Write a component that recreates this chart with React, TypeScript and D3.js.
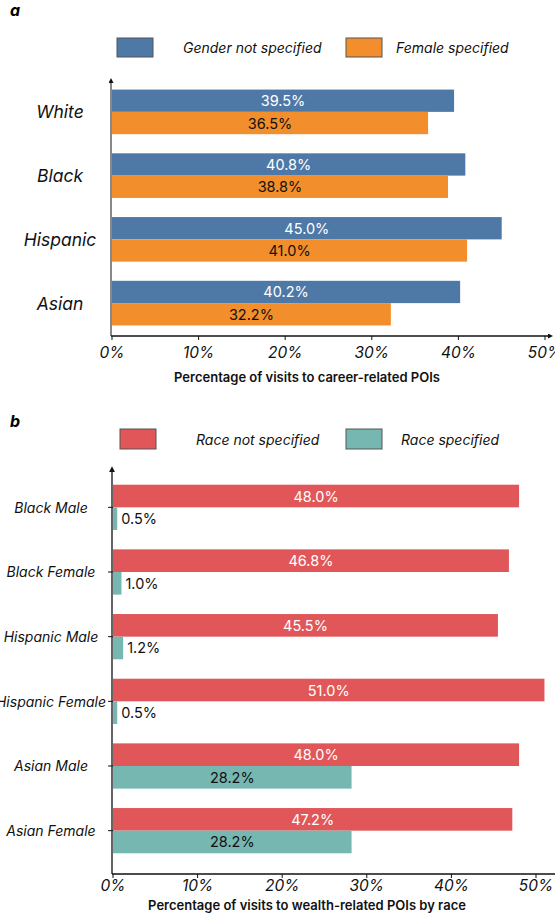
import React from 'react'
import * as d3 from 'd3'

// panel a: career-related POIs
const genderCategories = ['White', 'Black', 'Hispanic', 'Asian']
const genderNotSpecified = [39.5, 40.8, 45.0, 40.2]
const femaleSpecified = [36.5, 38.8, 41.0, 32.2]
const genderSeries = ['Gender not specified', 'Female specified']

// panel b: wealth-related POIs
const raceCategories = ['Black Male', 'Black Female', 'Hispanic Male', 'Hispanic Female', 'Asian Male', 'Asian Female']
const raceNotSpecified = [48.0, 46.8, 45.5, 51.0, 48.0, 47.2]
const raceSpecified = [0.5, 1.0, 1.2, 0.5, 28.2, 28.2]
const raceSeries = ['Race not specified', 'Race specified']

const xTicks = [0, 10, 20, 30, 40, 50]

const font = 'Inter, "Noto Sans", sans-serif'

type PanelProps = {
  tag: string
  tagY: number
  categories: string[]
  series: string[]
  values: number[][]
  colors: string[]
  labelColors: string[]
  legend: { y: number; rects: number[]; texts: number[]; w: number; h: number }
  x0: number
  x50: number
  yTop: number
  yAxis: number
  bandRange: [number, number]
  catX: number
  catSize: number
  valSize: number
  yTicks: boolean
  yAxisColor: string
  yAxisWidth: number
  xArrow: boolean
  tickDy: number
  titleDy: number
  title: string
  markerId: string
}

function Panel(p: PanelProps) {
  const x = d3.scaleLinear().domain([0, 50]).range([p.x0, p.x50])
  const y = d3.scaleBand<string>()
    .domain(p.categories)
    .range(p.bandRange)
    .paddingInner(0.3)
    .paddingOuter(0.15)
  const inner = d3.scaleBand<string>()
    .domain(p.series)
    .range([0, y.bandwidth()])
    .padding(0)

  return (
    <g>
      <text x={10} y={p.tagY} fontSize={16} fontWeight={700} fontStyle="italic">{p.tag}</text>

      {/* legend */}
      {p.series.map((s, i) => (
        <g key={s}>
          <rect x={p.legend.rects[i]} y={p.legend.y} width={p.legend.w} height={p.legend.h}
            fill={p.colors[i]} stroke="#555" strokeWidth={1} />
          <text x={p.legend.texts[i]} y={p.legend.y + p.legend.h / 2} dominantBaseline="central"
            fontSize={14} fontStyle="italic" fill="#111">{s}</text>
        </g>
      ))}

      {/* bars */}
      {p.categories.map((c, ci) => (
        <g key={c} transform={`translate(0,${y(c)})`}>
          {p.series.map((s, si) => {
            const v = p.values[si][ci]
            const by = inner(s) as number
            const w = x(v) - x(0)
            const small = v < 5
            return (
              <g key={s}>
                <rect x={x(0)} y={by} width={w} height={inner.bandwidth()} fill={p.colors[si]} />
                <text
                  x={small ? x(v) + 4 : x(0) + w / 2}
                  y={by + inner.bandwidth() / 2}
                  textAnchor={small ? 'start' : 'middle'}
                  dominantBaseline="central"
                  fontSize={p.valSize}
                  fill={small ? '#111' : p.labelColors[si]}
                >{v.toFixed(1)}%</text>
              </g>
            )
          })}
          <text x={p.catX} y={y.bandwidth() / 2} textAnchor="middle" dominantBaseline="central"
            fontSize={p.catSize} fontStyle="italic" fill="#111">{c}</text>
          {p.yTicks && (
            <line x1={x(0) - 5} x2={x(0)} y1={y.bandwidth() / 2} y2={y.bandwidth() / 2} stroke="#111" />
          )}
        </g>
      ))}

      {/* axes */}
      <line x1={x(0) - 1} x2={x(0) - 1} y1={p.yAxis} y2={p.yTop + 4} stroke={p.yAxisColor}
        strokeWidth={p.yAxisWidth} markerEnd={`url(#${p.markerId})`} />
      <line x1={x(0) - 1} x2={p.xArrow ? 549 : 560} y1={p.yAxis} y2={p.yAxis} stroke="#111"
        strokeWidth={1.3} markerEnd={p.xArrow ? `url(#${p.markerId})` : undefined} />
      {xTicks.map(t => (
        <g key={t} transform={`translate(${x(t)},${p.yAxis})`}>
          <line y1={0} y2={4} stroke="#111" />
          <text y={p.tickDy} textAnchor="middle" fontSize={15.5} fontStyle="italic" fill="#111">{t}%</text>
        </g>
      ))}
      <text x={307} y={p.yAxis + p.titleDy} textAnchor="middle" fontSize={13}
        fontWeight={600} fill="#111">{p.title}</text>
    </g>
  )
}

export default function App() {
  return (
    <svg width={555} height={920} style={{ position: 'absolute', left: 0, top: 0, background: '#fff' }}
      fontFamily={font}>
      <defs>
        <marker id="arrA" viewBox="0 0 10 10" refX="2" refY="5" markerWidth="5" markerHeight="5"
          markerUnits="userSpaceOnUse" orient="auto">
          <path d="M0,0 L10,5 L0,10 Z" fill="#111" />
        </marker>
        <marker id="arrB" viewBox="0 0 10 10" refX="2" refY="5" markerWidth="6" markerHeight="6"
          markerUnits="userSpaceOnUse" orient="auto">
          <path d="M0,0 L10,5 L0,10 Z" fill="#111" />
        </marker>
      </defs>
      <Panel
        tag="a"
        tagY={16}
        categories={genderCategories}
        series={genderSeries}
        values={[genderNotSpecified, femaleSpecified]}
        colors={['#4e79a7', '#f28e2b']}
        labelColors={['#fff', '#111']}
        legend={{ y: 38, rects: [117, 346], texts: [183, 396], w: 36, h: 19 }}
        x0={112}
        x50={545}
        yTop={78}
        yAxis={336}
        bandRange={[80, 335]}
        catX={60}
        catSize={17.5}
        valSize={14.5}
        yTicks={false}
        yAxisColor="#888"
        yAxisWidth={2}
        xArrow={true}
        tickDy={22}
        titleDy={46}
        title="Percentage of visits to career-related POIs"
        markerId="arrA"
      />
      <Panel
        tag="b"
        tagY={427}
        categories={raceCategories}
        series={raceSeries}
        values={[raceNotSpecified, raceSpecified]}
        colors={['#e15759', '#76b7b2']}
        labelColors={['#fff', '#111']}
        legend={{ y: 429, rects: [120, 346], texts: [196, 401], w: 36, h: 20 }}
        x0={113}
        x50={536}
        yTop={467}
        yAxis={874}
        bandRange={[475, 863]}
        catX={51}
        catSize={14}
        valSize={14.5}
        yTicks={true}
        yAxisColor="#111"
        yAxisWidth={1.3}
        xArrow={false}
        tickDy={17}
        titleDy={36}
        title="Percentage of visits to wealth-related POIs by race"
        markerId="arrB"
      />
    </svg>
  )
}
